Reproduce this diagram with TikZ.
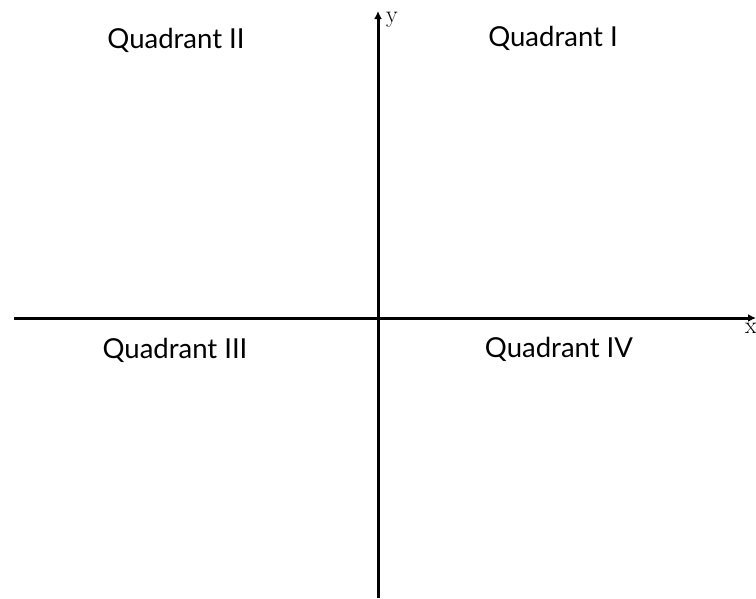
\documentclass[tikz,border=0pt]{standalone}
\usepackage{fontspec}
\newfontfamily\quadfont{Lato}
\usetikzlibrary{arrows.meta}
\begin{document}
\begin{tikzpicture}[x=1pt,y=-1pt,
  axis/.style={line width=3pt,-{Latex[length=8pt,width=8pt]}},
  quad/.style={font=\quadfont\fontsize{27.5}{32}\selectfont,inner sep=0pt},
  axlabel/.style={font=\fontsize{24}{28}\selectfont,inner sep=0pt}]
\useasboundingbox (0,0) rectangle (756,598);
\coordinate (xs) at (14,318);
\coordinate (xe) at (756,318);
\coordinate (ys) at (378,598);
\coordinate (ye) at (378,11);
\draw[axis] (xs) -- (xe);
\draw[axis] (ys) -- (ye);
\node[axlabel] (xl) at (751,328) {x};
\node[axlabel] (yl) at (392,20) {y};
\node[quad] (q1) at (553,38) {Quadrant I};
\node[quad] (q2) at (176,40) {Quadrant II};
\node[quad] (q3) at (175,350) {Quadrant III};
\node[quad] (q4) at (559,349) {Quadrant IV};
\end{tikzpicture}
\end{document}
